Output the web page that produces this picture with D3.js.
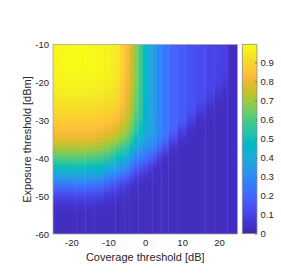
<!DOCTYPE html>
<html>
<head>
<meta charset="utf-8">
<script src="https://cdn.jsdelivr.net/npm/d3@7"></script>
<style>
  body { margin: 0; background: #fff; }
  svg { display: block; }
  text { font-family: "Liberation Sans", Arial, sans-serif; fill: #262626; }
</style>
</head>
<body>
<svg id="chart" width="281" height="278"></svg>
<script>
// coverage threshold [dB] of each column, exposure threshold [dBm] of each row
const coverage = [-25, -22.5, -20, -17.5, -15, -12.5, -10, -8.75, -7.5, -6.25, -5, -3.75,
                  -2.5, -1.25, 0, 1.25, 2.5, 3.75, 5, 7.5, 10, 12.5, 15, 17.5, 20, 21.5, 23, 25]
const exposure = [-10, -12.5, -15, -17.5, -20, -22.5, -25, -27.5, -30, -32.5, -35,
                  -37.5, -40, -42.5, -45, -47.5, -50, -52.5, -55, -57.5, -60]

// one list per coverage column, top row (-10 dBm) first
const prob = [
  [.975,.98,.98,.975,.965,.95,.93,.90,.87,.83,.78,.70,.60,.48,.35,.22,.11,.05,.035,.03,.03],
  [.985,.99,.99,.985,.975,.96,.94,.91,.88,.84,.79,.71,.61,.49,.36,.22,.11,.05,.035,.03,.03],
  [.99,.995,.995,.99,.98,.965,.94,.91,.88,.84,.79,.71,.61,.49,.36,.22,.11,.05,.035,.03,.03],
  [.99,.995,.99,.985,.975,.96,.94,.91,.88,.84,.79,.71,.61,.49,.36,.22,.11,.05,.035,.03,.03],
  [.985,.99,.99,.985,.975,.96,.935,.905,.875,.835,.785,.705,.60,.48,.35,.21,.105,.05,.035,.03,.03],
  [.98,.985,.985,.98,.97,.955,.93,.90,.87,.825,.775,.695,.59,.47,.34,.20,.10,.045,.035,.03,.03],
  [.97,.975,.975,.97,.96,.945,.92,.89,.86,.81,.75,.66,.55,.42,.29,.16,.07,.04,.03,.03,.03],
  [.955,.96,.96,.955,.945,.93,.905,.875,.84,.79,.725,.63,.515,.39,.26,.135,.06,.04,.03,.03,.03],
  [.94,.945,.945,.94,.93,.91,.89,.86,.82,.77,.70,.60,.48,.36,.23,.11,.05,.035,.03,.03,.03],
  [.89,.895,.895,.89,.88,.865,.845,.82,.785,.74,.67,.57,.45,.33,.20,.09,.045,.035,.03,.03,.03],
  [.83,.835,.835,.83,.82,.81,.79,.77,.74,.70,.63,.53,.41,.29,.17,.07,.04,.035,.03,.03,.03],
  [.76,.76,.76,.755,.75,.74,.725,.70,.67,.63,.56,.46,.34,.23,.12,.05,.035,.03,.03,.03,.03],
  [.68,.68,.68,.675,.67,.66,.65,.63,.60,.55,.48,.38,.27,.17,.08,.04,.035,.03,.03,.03,.03],
  [.58,.58,.58,.575,.57,.565,.56,.55,.53,.49,.43,.35,.245,.145,.06,.035,.03,.03,.03,.03,.03],
  [.47,.47,.47,.47,.47,.47,.465,.46,.45,.42,.38,.31,.22,.12,.05,.035,.03,.03,.03,.03,.03],
  [.40,.40,.40,.40,.40,.40,.40,.395,.39,.38,.345,.28,.18,.08,.04,.03,.03,.03,.03,.03,.03],
  [.35,.35,.35,.35,.35,.35,.35,.35,.345,.34,.31,.25,.14,.05,.035,.03,.03,.03,.03,.03,.03],
  [.29,.29,.29,.29,.29,.29,.29,.29,.29,.285,.265,.19,.085,.04,.035,.03,.03,.03,.03,.03,.03],
  [.25,.25,.25,.25,.25,.25,.25,.25,.25,.245,.22,.12,.045,.035,.03,.03,.03,.03,.03,.03,.03],
  [.20,.20,.20,.20,.20,.20,.20,.20,.20,.19,.12,.05,.035,.03,.03,.03,.03,.03,.03,.03,.03],
  [.165,.165,.165,.165,.165,.165,.165,.165,.16,.10,.05,.035,.03,.03,.03,.03,.03,.03,.03,.03,.03],
  [.14,.14,.14,.14,.14,.14,.14,.135,.09,.045,.035,.03,.03,.03,.03,.03,.03,.03,.03,.03,.03],
  [.12,.12,.12,.12,.12,.12,.115,.08,.045,.035,.03,.03,.03,.03,.03,.03,.03,.03,.03,.03,.03],
  [.105,.105,.105,.105,.105,.10,.075,.04,.035,.03,.03,.03,.03,.03,.03,.03,.03,.03,.03,.03,.03],
  [.095,.095,.095,.095,.09,.07,.04,.035,.03,.03,.03,.03,.03,.03,.03,.03,.03,.03,.03,.03,.03],
  [.09,.09,.09,.085,.07,.045,.035,.03,.03,.03,.03,.03,.03,.03,.03,.03,.03,.03,.03,.03,.03],
  [.035,.035,.035,.035,.035,.035,.035,.035,.035,.035,.035,.035,.035,.035,.035,.035,.035,.035,.035,.035,.035],
  [.035,.035,.035,.035,.035,.035,.035,.035,.035,.035,.035,.035,.035,.035,.035,.035,.035,.035,.035,.035,.035]
]

const xTicks = [-20, -10, 0, 10, 20]
const yTicks = [-60, -50, -40, -30, -20, -10]
const cbTicks = [0, 0.1, 0.2, 0.3, 0.4, 0.5, 0.6, 0.7, 0.8, 0.9]

// parula, 64 steps
const parula = [
  [.2422,.1504,.6603],[.2504,.1650,.7076],[.2578,.1818,.7511],[.2647,.1978,.7952],
  [.2706,.2147,.8364],[.2751,.2342,.8710],[.2783,.2559,.8991],[.2803,.2782,.9221],
  [.2813,.3006,.9414],[.2810,.3228,.9579],[.2795,.3447,.9717],[.2760,.3667,.9829],
  [.2699,.3892,.9906],[.2602,.4123,.9952],[.2440,.4358,.9988],[.2206,.4603,.9973],
  [.1963,.4847,.9892],[.1834,.5074,.9798],[.1786,.5289,.9682],[.1764,.5499,.9520],
  [.1687,.5703,.9359],[.1540,.5902,.9218],[.1460,.6091,.9079],[.1380,.6276,.8973],
  [.1248,.6459,.8883],[.1113,.6635,.8763],[.0952,.6798,.8598],[.0689,.6948,.8394],
  [.0297,.7082,.8163],[.0036,.7203,.7917],[.0067,.7312,.7660],[.0433,.7411,.7394],
  [.0964,.7500,.7120],[.1408,.7584,.6842],[.1717,.7670,.6554],[.1938,.7758,.6251],
  [.2161,.7843,.5923],[.2470,.7918,.5567],[.2906,.7973,.5188],[.3406,.8008,.4789],
  [.3909,.8029,.4354],[.4456,.8024,.3909],[.5044,.7993,.3480],[.5616,.7942,.3045],
  [.6174,.7876,.2612],[.6720,.7793,.2227],[.7242,.7698,.1910],[.7738,.7598,.1646],
  [.8203,.7498,.1535],[.8634,.7406,.1596],[.9035,.7330,.1774],[.9393,.7288,.2100],
  [.9728,.7298,.2394],[.9956,.7434,.2371],[.9970,.7659,.2199],[.9952,.7893,.2028],
  [.9892,.8136,.1885],[.9786,.8386,.1766],[.9676,.8639,.1643],[.9610,.8890,.1537],
  [.9597,.9135,.1423],[.9628,.9373,.1265],[.9691,.9606,.1064],[.9769,.9839,.0805]
].map(c => d3.rgb(c[0] * 255, c[1] * 255, c[2] * 255).formatHex())

const cmax = 0.995
const color = d3.scaleLinear()
  .domain(parula.map((_, i) => i / 63 * cmax))
  .range(parula)
  .clamp(true)

const plot = { left: 53, right: 237.5, top: 44.5, bottom: 234 }
const x = d3.scaleLinear().domain([-25, 25]).range([plot.left, plot.right])
const y = d3.scaleLinear().domain([-60, -10]).range([plot.bottom, plot.top])

const svg = d3.select('#chart')
const defs = svg.append('defs')

// each coverage column: a strip whose colour follows the rows top to bottom
const last = coverage.length - 1
const edges = coverage.map((c, i) => [
  i === 0 ? -25 : (coverage[i - 1] + c) / 2,
  i === last ? 25 : (c + coverage[i + 1]) / 2
])
coverage.forEach((c, i) => {
  const g = defs.append('linearGradient')
    .attr('id', 'col' + i)
    .attr('gradientUnits', 'userSpaceOnUse')
    .attr('x1', 0).attr('x2', 0)
    .attr('y1', y(exposure[0])).attr('y2', y(exposure[exposure.length - 1]))
  g.selectAll('stop')
    .data(exposure)
    .enter()
    .append('stop')
    .attr('offset', e => (y(e) - y(exposure[0])) / (y(exposure[exposure.length - 1]) - y(exposure[0])))
    .attr('stop-color', (e, j) => color(prob[i][j]))
})
svg.append('g')
  .selectAll('rect')
  .data(coverage)
  .enter()
  .append('rect')
  .attr('x', (c, i) => x(edges[i][0]))
  .attr('width', (c, i) => x(edges[i][1]) - x(edges[i][0]) + (i === last ? 0 : 0.4))
  .attr('y', y(-10))
  .attr('height', y(-60) - y(-10))
  .attr('fill', (c, i) => `url(#col${i})`)

svg.append('rect')
  .attr('x', plot.left).attr('y', plot.top)
  .attr('width', plot.right - plot.left).attr('height', plot.bottom - plot.top)
  .attr('fill', 'none').attr('stroke', '#a6a6a6').attr('stroke-width', 0.8)

// axes
const xAxis = svg.append('g')
  .attr('transform', `translate(0,${plot.bottom})`)
  .call(d3.axisBottom(x).tickValues(xTicks).tickFormat(d => String(d)).tickSize(0).tickPadding(5.5))
const yAxis = svg.append('g')
  .attr('transform', `translate(${plot.left},0)`)
  .call(d3.axisLeft(y).tickValues(yTicks).tickFormat(d => String(d)).tickSize(0).tickPadding(4))
;[xAxis, yAxis].forEach(a => {
  a.select('.domain').remove()
  a.selectAll('text').attr('font-size', 9.5).attr('font-family', null).attr('fill', '#333')
})

svg.append('text')
  .attr('x', (plot.left + plot.right) / 2).attr('y', 260.5)
  .attr('text-anchor', 'middle').attr('font-size', 11)
  .text('Coverage threshold [dB]')
svg.append('text')
  .attr('transform', 'translate(31,139.5) rotate(-90)')
  .attr('text-anchor', 'middle').attr('font-size', 11)
  .text('Exposure threshold [dBm]')

// colorbar
const cb = { left: 242.3, right: 257, top: 44.3, bottom: 233.7 }
const cy = d3.scaleLinear().domain([0, cmax]).range([cb.bottom, cb.top])
const grad = defs.append('linearGradient')
  .attr('id', 'cbgrad').attr('x1', 0).attr('y1', 1).attr('x2', 0).attr('y2', 0)
grad.selectAll('stop')
  .data(parula)
  .enter()
  .append('stop')
  .attr('offset', (_, i) => i / 63)
  .attr('stop-color', d => d)
svg.append('rect')
  .attr('x', cb.left).attr('y', cb.top)
  .attr('width', cb.right - cb.left).attr('height', cb.bottom - cb.top)
  .attr('fill', 'url(#cbgrad)').attr('stroke', '#8c8c8c').attr('stroke-width', 0.8)

const cbAxis = svg.append('g')
  .attr('transform', `translate(${cb.right},0)`)
  .call(d3.axisRight(cy).tickValues(cbTicks).tickFormat(d => String(d)).tickSize(-2).tickPadding(3.5))
cbAxis.select('.domain').remove()
cbAxis.selectAll('line').attr('stroke', '#555').attr('stroke-width', 0.7)
cbAxis.selectAll('text').attr('font-size', 9.5).attr('font-family', null).attr('fill', '#333')
</script>
</body>
</html>
